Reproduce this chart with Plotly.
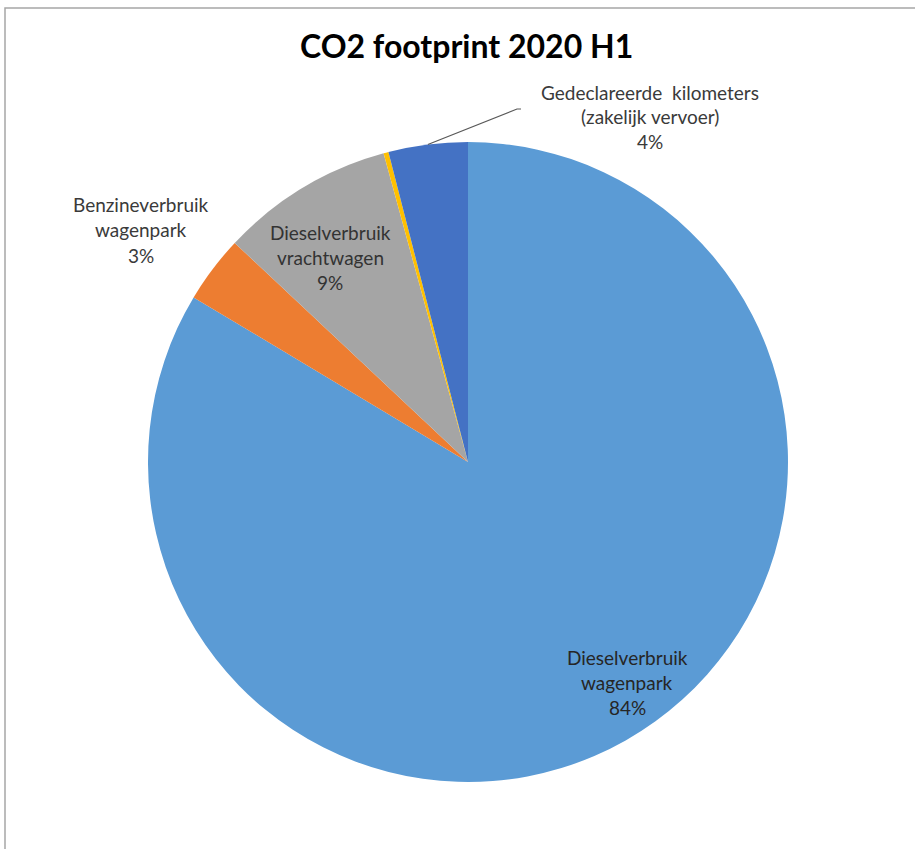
import math
import plotly.graph_objects as go

# ---- data ----
categories = [
    "Dieselverbruik wagenpark",
    "Benzineverbruik wagenpark",
    "Dieselverbruik vrachtwagen",
    "Overig",
    "Gedeclareerde kilometers (zakelijk vervoer)",
]
values = [83.6, 3.4, 8.75, 0.25, 4.0]
label_lines = [
    ["Dieselverbruik", "wagenpark", "84%"],
    ["Benzineverbruik", "wagenpark", "3%"],
    ["Dieselverbruik", "vrachtwagen", "9%"],
    None,
    ["Gedeclareerde  kilometers", "(zakelijk vervoer)", "4%"],
]
colors = ["#5B9BD5", "#ED7D31", "#A5A5A5", "#FFC000", "#4472C4"]
title_text = "CO2 footprint 2020 H1"

# ---- layout geometry (pixels) ----
W, H = 915, 849
CX, CY, R = 468, 462, 320
FONT = "Lato"

def px(x):
    return x / W

def py(y):
    return 1 - y / H

# label centres (pixel coordinates of first line) and text colours
label_pos = [(627, 657), (141, 205), (330, 233), None, (650, 92)]
label_color = ["#262626", "#3A3A3A", "#333333", None, "#3A3A3A"]
LINE_STEP = 25

fig = go.Figure(
    go.Pie(
        labels=categories,
        values=values,
        sort=False,
        direction="clockwise",
        rotation=0,
        marker=dict(colors=colors, line=dict(width=0)),
        textinfo="none",
        hoverinfo="label+percent",
        domain=dict(x=[px(CX - R), px(CX + R)], y=[py(CY + R), py(CY - R)]),
        showlegend=False,
    )
)

annotations = []
for lines, pos, col in zip(label_lines, label_pos, label_color):
    if not lines:
        continue
    for i, t in enumerate(lines):
        annotations.append(
            dict(
                x=px(pos[0]), y=py(pos[1] + i * LINE_STEP),
                xref="paper", yref="paper",
                text=t, showarrow=False,
                xanchor="center", yanchor="middle",
                font=dict(family=FONT, size=19, color=col),
            )
        )

annotations.append(
    dict(
        x=px(467), y=py(45), xref="paper", yref="paper",
        text="<b>" + title_text + "</b>", showarrow=False,
        xanchor="center", yanchor="middle",
        font=dict(family=FONT, size=32, color="#000000"),
    )
)

# leader line for the last slice, starting at its mid-angle on the rim
total = sum(values)
cum = sum(values[:-1])
mid = (cum + values[-1] / 2) / total * 2 * math.pi
sx = CX + R * math.sin(mid)
sy = CY - R * math.cos(mid)

shapes = [
    dict(
        type="path", xref="paper", yref="paper",
        path=f"M {px(sx)} {py(sy)} L {px(517)} {py(109)} L {px(521)} {py(109)}",
        line=dict(color="#595959", width=1.2),
    ),
    dict(
        type="rect", xref="paper", yref="paper",
        x0=px(5), y0=-0.02, x1=1.02, y1=py(8),
        line=dict(color="#A6A6A6", width=1.5),
        fillcolor="rgba(0,0,0,0)", layer="below",
    ),
]

fig.update_layout(
    width=W, height=H,
    margin=dict(l=0, r=0, t=0, b=0),
    paper_bgcolor="white",
    plot_bgcolor="white",
    annotations=annotations,
    shapes=shapes,
)

fig.write_html("out.html")
